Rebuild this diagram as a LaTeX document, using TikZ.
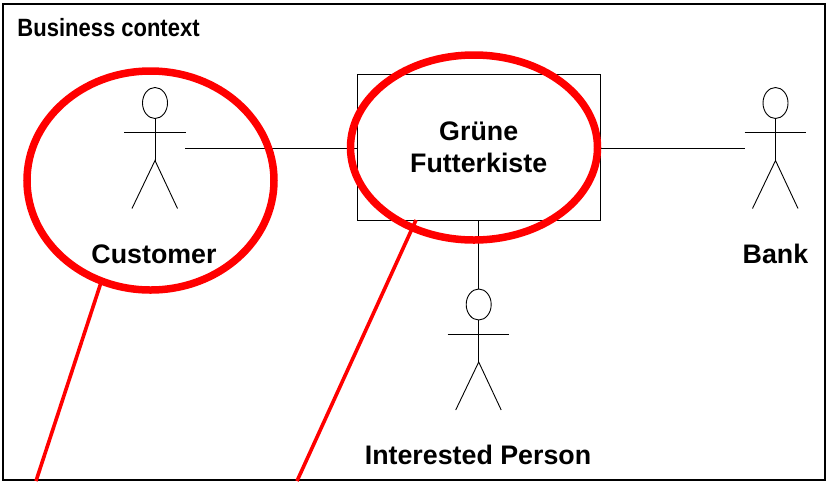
\documentclass[tikz,border=0pt]{standalone}
\usepackage{fontspec}
\usepackage{tikz}
\usetikzlibrary{shapes.geometric}
\setmainfont{Liberation Sans}
\newfontfamily\titlefont[FakeStretch=0.88]{Liberation Sans}

\begin{document}
\begin{tikzpicture}[x=1pt, y=-1pt, line width=0.9pt,
  main/.style = {draw, rectangle, minimum width=242.5pt, minimum height=146pt, inner sep=0pt},
  head/.style = {draw, ellipse, minimum width=25pt, minimum height=31pt, inner sep=0pt, outer sep=0pt},
  caption/.style = {font=\bfseries\fontsize{26.8}{32}\selectfont, align=center, inner sep=0pt},
  ring/.style = {draw=red, ellipse, line width=7.5pt, inner sep=0pt, outer sep=0pt},
  pointer/.style = {draw=red, line width=3.6pt},
  actor/.pic = {
    \node[head] (-head) at (0,0) {};
    \coordinate (-left) at (-30.5,45);
    \coordinate (-right) at (30,45);
    \coordinate (-hip) at (0,57.5);
    \draw (-head.south) -- (-hip);
    \draw (-31,29.7) -- (30.5,29.7);
    \draw (-23,105.5) -- (-hip) -- (22.5,105.5);
  }]

\useasboundingbox (0,0) rectangle (826,483);

\node[draw, line width=1.5pt, minimum width=822pt, minimum height=476pt, inner sep=0pt] (frame) at (414,242.2) {};
\node[font=\titlefont\bfseries\fontsize{25}{30}\selectfont, inner sep=0pt, anchor=west] (title) at (17,28) {Business context};

\node[main, caption] (box) at (478.7,147.5) {Grüne\\[-0.5pt]Futterkiste};

\pic (customer) at (155,103) {actor};
\pic (bank) at (775.5,103) {actor};
\pic (person) at (478.7,304.5) {actor};

\node[caption] (customerlabel) at (154,254) {Customer};
\node[caption] (banklabel) at (775.5,254) {Bank};
\node[caption] (personlabel) at (478,455) {Interested Person};

\draw (customer-right) -- (box.west |- customer-right);
\draw (box.east |- bank-left) -- (bank-left);
\draw (box.south) -- (person-head.north);

\node[ring, minimum width=247pt, minimum height=219pt] (customerring) at (150.5,180.5) {};
\node[ring, minimum width=247pt, minimum height=185pt] (boxring) at (474,147.5) {};

\coordinate (boxstart) at (416,220);
\coordinate (customerend) at (36,481);
\coordinate (boxend) at (297,481);
\draw[pointer] (customerring.244) -- (customerend);
\draw[pointer] (boxstart) -- (boxend);

\end{tikzpicture}
\end{document}
